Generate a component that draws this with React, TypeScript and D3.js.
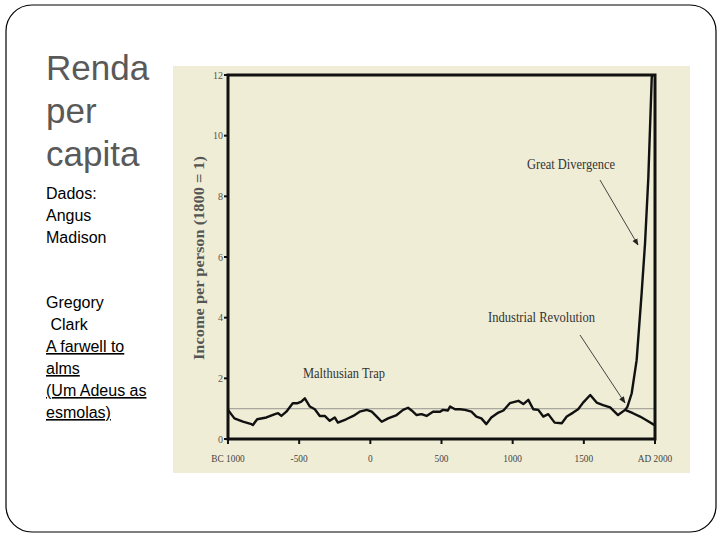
import React from "react";
import * as d3 from "d3";

const mainYears = [-1000,-955,-895,-835,-825,-795,-730,-670,-648,-625,-590,-545,-510,-485,-460,-425,-390,-355,-320,-285,-250,-228,-170,-120,-75,-25,10,45,80,125,185,230,265,290,325,360,395,440,490,510,545,560,595,630,665,710,745,780,815,850,900,935,980,1040,1075,1110,1145,1180,1215,1250,1295,1345,1380,1425,1460,1495,1545,1590,1635,1685,1740,1790,1845,1895,1940,2000];
const mainValues = [0.96,0.68,0.57,0.49,0.46,0.65,0.71,0.82,0.85,0.76,0.9,1.18,1.18,1.23,1.34,1.07,0.98,0.76,0.76,0.6,0.71,0.54,0.65,0.76,0.9,0.96,0.9,0.74,0.57,0.68,0.79,0.96,1.03,0.94,0.79,0.82,0.76,0.9,0.9,0.96,0.94,1.07,0.98,0.98,0.96,0.9,0.74,0.68,0.49,0.71,0.87,0.94,1.18,1.26,1.15,1.29,0.98,0.96,0.74,0.82,0.54,0.52,0.74,0.87,0.98,1.2,1.45,1.2,1.12,1.04,0.79,0.96,0.85,0.74,0.62,0.45];
const divYears = [1790,1806,1836,1871,1906,1930,1953,1977,1980];
const divValues = [0.96,1.06,1.5,2.6,4.8,6.45,8.6,11.9,12];
const yTicks = [0,2,4,6,8,10,12];
const xTicks = [-1000,-500,0,500,1000,1500,2000];
const xTickLabels = ["BC 1000","-500","0","500","1000","1500","AD 2000"];
const titleLines = ["Renda","per","capita"];
const sourceLines = ["Dados:","Angus","Madison"];
const bookLines = [
  { t: "Gregory", u: false },
  { t: " Clark", u: false },
  { t: "A farwell to", u: true },
  { t: "alms", u: true },
  { t: "(Um Adeus as", u: true },
  { t: "esmolas)", u: true },
];

export default function App() {
  const W = 720, H = 540;
  const x = d3.scaleLinear().domain([-1000, 2000]).range([228, 655]);
  const y = d3.scaleLinear().domain([0, 12]).range([439, 75]);
  const line = d3.line<[number, number]>().x(d => x(d[0])).y(d => y(d[1]));
  const mainPts = mainYears.map((yr, i) => [yr, mainValues[i]] as [number, number]);
  const divPts = divYears.map((yr, i) => [yr, divValues[i]] as [number, number]);
  const serif = "'Liberation Serif', 'DejaVu Serif', serif";
  const sans = "'Liberation Sans', Arial, sans-serif";

  return (
    <svg width={W} height={H} style={{ position: "absolute", left: 0, top: 0 }}>
      <defs>
        <marker id="arr" viewBox="0 0 10 10" refX="9" refY="5" markerWidth="7" markerHeight="7" orient="auto">
          <path d="M0,1 L10,5 L0,9 Z" fill="#222" />
        </marker>
      </defs>
      <rect x={0} y={0} width={W} height={H} fill="#fff" />
      <rect x={6} y={5} width={710} height={527} rx={26} ry={26} fill="none" stroke="#000" strokeWidth={1.2} />

      {titleLines.map((t, i) => (
        <text key={t} x={46} y={80 + i * 43} fontFamily={sans} fontSize={35} fill="#595959">{t}</text>
      ))}
      {sourceLines.map((t, i) => (
        <text key={t} x={46} y={199 + i * 22} fontFamily={sans} fontSize={16} fill="#000">{t}</text>
      ))}
      {bookLines.map((b, i) => (
        <text key={i} x={46} y={308 + i * 22} fontFamily={sans} fontSize={16} fill="#000" textDecoration={b.u ? "underline" : "none"} style={{ whiteSpace: "pre" }}>{b.t}</text>
      ))}

      <rect x={173} y={66} width={517} height={407} fill="#efedd6" />

      {/* reference line at 1 */}
      <line x1={x(-1000)} x2={x(2000)} y1={y(1)} y2={y(1)} stroke="#a9a8a0" strokeWidth={1.2} />

      {/* data */}
      <path d={line(mainPts) || ""} fill="none" stroke="#111" strokeWidth={2.4} strokeLinejoin="round" />
      <path d={line(divPts) || ""} fill="none" stroke="#111" strokeWidth={2.4} strokeLinejoin="round" />

      {/* frame */}
      <rect x={x(-1000)} y={y(12)} width={x(2000) - x(-1000)} height={y(0) - y(12)} fill="none" stroke="#111" strokeWidth={3} />

      {yTicks.map(v => (
        <g key={v}>
          <line x1={x(-1000) - 4} x2={x(-1000)} y1={y(v)} y2={y(v)} stroke="#111" strokeWidth={2} />
          <text x={x(-1000) - 5} y={y(v) + 3.5} textAnchor="end" fontFamily={serif} fontSize={10} fill="#555">{v}</text>
        </g>
      ))}
      {xTicks.map((v, i) => (
        <g key={v}>
          <line x1={x(v)} x2={x(v)} y1={y(0)} y2={y(0) + 5} stroke="#111" strokeWidth={2} />
          <text x={x(v)} y={462} textAnchor="middle" fontFamily={serif} fontSize={11} fill="#444" transform={`translate(${x(v)},0) scale(0.85,1) translate(${-x(v)},0)`}>{xTickLabels[i]}</text>
        </g>
      ))}

      <text transform={`translate(204,258) rotate(-90)`} textAnchor="middle" fontFamily={serif} fontSize={15} fontWeight="bold" fill="#555" textLength={204} lengthAdjust="spacingAndGlyphs">Income per person (1800 = 1)</text>

      <text x={527} y={169} fontFamily={serif} fontSize={15} fill="#333" textLength={88} lengthAdjust="spacingAndGlyphs">Great Divergence</text>
      <text x={488} y={322} fontFamily={serif} fontSize={15} fill="#333" textLength={107} lengthAdjust="spacingAndGlyphs">Industrial Revolution</text>
      <text x={303} y={378} fontFamily={serif} fontSize={15} fill="#333" textLength={82} lengthAdjust="spacingAndGlyphs">Malthusian Trap</text>

      <line x1={600} y1={180} x2={638} y2={245} stroke="#444" strokeWidth={1} markerEnd="url(#arr)" />
      <line x1={580} y1={335} x2={625} y2={403} stroke="#444" strokeWidth={1} markerEnd="url(#arr)" />
    </svg>
  );
}
